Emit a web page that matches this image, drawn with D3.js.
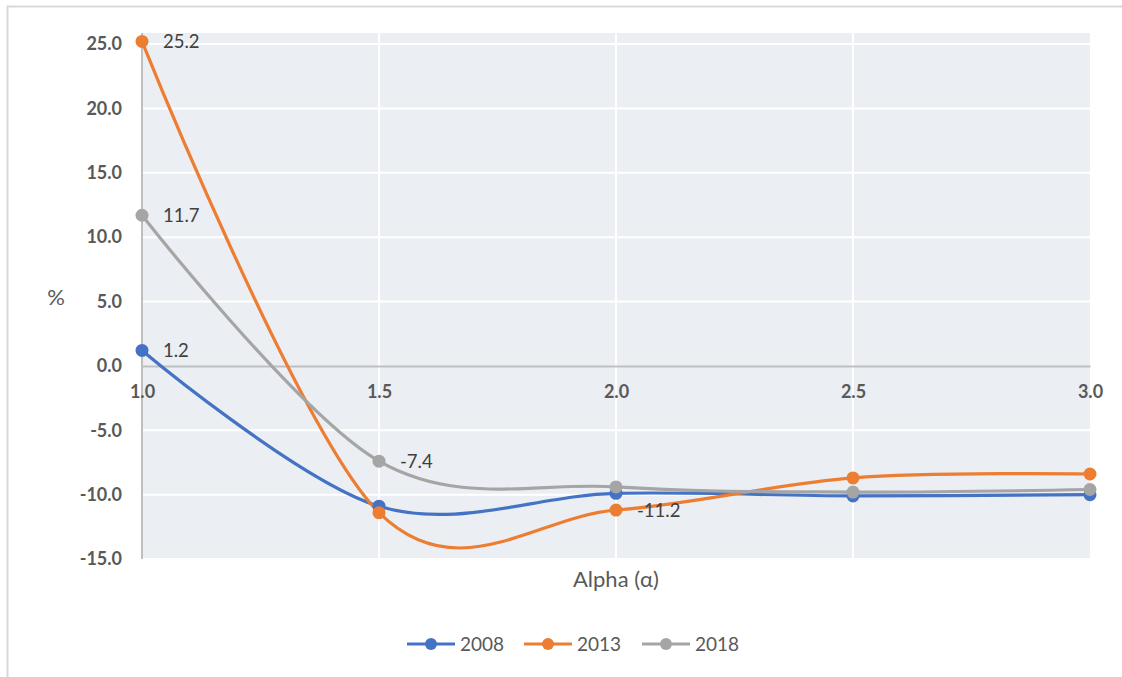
<!DOCTYPE html>
<html>
<head>
<meta charset="utf-8">
<script src="https://cdn.jsdelivr.net/npm/d3@7"></script>
<style>
  body { margin: 0; background: #fff; }
  svg { font-family: Lato, "Open Sans", sans-serif; }
</style>
</head>
<body>
<svg id="chart" width="1122" height="677"></svg>
<script>
// data
const alphas = [1.0, 1.5, 2.0, 2.5, 3.0];
const years = ["2008", "2013", "2018"];
const values2008 = [1.2, -10.9, -9.9, -10.1, -10.0];
const values2013 = [25.2, -11.4, -11.2, -8.7, -8.4];
const values2018 = [11.7, -7.4, -9.4, -9.8, -9.6];
const yTicks = [-15, -10, -5, 0, 5, 10, 15, 20, 25];
const xTicks = [1.0, 1.5, 2.0, 2.5, 3.0];
// which points carry a value label
const labelled2008 = [0];
const labelled2013 = [0, 2];
const labelled2018 = [0, 1];

const colors = ["#4472C4", "#ED7D31", "#A5A5A5"];

// one decimal, plain hyphen for negatives
const fmt = d => d3.format('.1f')(d).replace('\u2212', '-');

const svg = d3.select('#chart');

// outer chart frame
svg.append('rect')
    .attr('x', 7.5).attr('y', 6.5)
    .attr('width', 1200).attr('height', 800)
    .attr('fill', 'none')
    .attr('stroke', '#d9d9d9')
    .attr('stroke-width', 2);

const x = d3.scaleLinear().domain([1, 3]).range([142, 1090]);
const y = d3.scaleLinear().domain([-15, 25]).range([559, 44]);

// plot background
svg.append('rect')
    .attr('x', x(1)).attr('y', y(25) - 11)
    .attr('width', x(3) - x(1)).attr('height', y(-15) - y(25) + 11)
    .attr('fill', '#ebeef2');

// grid
svg.append('g')
    .selectAll('line')
    .data(yTicks.filter(d => d !== 0))
    .join('line')
        .attr('x1', x(1)).attr('x2', x(3))
        .attr('y1', d => y(d)).attr('y2', d => y(d))
        .attr('stroke', '#fff').attr('stroke-width', 2);

svg.append('g')
    .selectAll('line')
    .data(xTicks.slice(1, -1))
    .join('line')
        .attr('x1', d => x(d)).attr('x2', d => x(d))
        .attr('y1', y(25) - 11).attr('y2', y(-15))
        .attr('stroke', '#fff').attr('stroke-width', 2);

// y axis
const axisLeft = d3.axisLeft(y).tickValues(yTicks).tickFormat(fmt).tickSize(0).tickPadding(20);
const gy = svg.append('g')
    .attr('transform', 'translate(' + x(1) + ',0)')
    .call(axisLeft);
gy.select('.domain').attr('stroke', '#bfbfbf').attr('stroke-width', 2)
    .attr('d', 'M0,' + (y(25) - 11) + 'V' + y(-15));
gy.selectAll('text')
    .attr('font-family', 'Lato, sans-serif')
    .attr('font-size', 18)
    .attr('font-weight', 'bold')
    .attr('fill', '#595959');

// x axis at zero
const axisBottom = d3.axisBottom(x).tickValues(xTicks).tickFormat(fmt).tickSize(0).tickPadding(19);
const gx = svg.append('g')
    .attr('transform', 'translate(0,' + y(0) + ')')
    .call(axisBottom);
gx.select('.domain').attr('stroke', '#bfbfbf').attr('stroke-width', 2);
gx.selectAll('text')
    .attr('font-family', 'Lato, sans-serif')
    .attr('font-size', 18)
    .attr('font-weight', 'bold')
    .attr('fill', '#595959');

// axis titles
svg.append('text')
    .attr('x', 616).attr('y', 587)
    .attr('text-anchor', 'middle')
    .attr('font-size', 22)
    .attr('fill', '#595959')
    .text('Alpha (α)');

svg.append('text')
    .attr('x', 56).attr('y', 305)
    .attr('text-anchor', 'middle')
    .attr('font-size', 22)
    .attr('fill', '#595959')
    .text('%');

// series
const series = [
    { name: years[0], values: values2008, labels: labelled2008 },
    { name: years[1], values: values2013, labels: labelled2013 },
    { name: years[2], values: values2018, labels: labelled2018 }
];

const lineBuilder = d3.line()
    .x((d, i) => x(alphas[i]))
    .y(d => y(d))
    .curve(d3.curveCardinal.tension(0));

series.forEach((s, k) => {
    svg.append('path')
        .datum(s.values)
        .attr('fill', 'none')
        .attr('stroke', colors[k])
        .attr('stroke-width', 3.2)
        .attr('d', lineBuilder);
});

series.forEach((s, k) => {
    svg.append('g')
        .selectAll('circle')
        .data(s.values)
        .join('circle')
            .attr('cx', (d, i) => x(alphas[i]))
            .attr('cy', d => y(d))
            .attr('r', 6.5)
            .attr('fill', colors[k]);
});

// data labels
series.forEach((s) => {
    svg.append('g')
        .selectAll('text')
        .data(s.labels)
        .join('text')
            .attr('x', i => x(alphas[i]) + 21)
            .attr('y', i => y(s.values[i]) + 6.5)
            .attr('font-size', 18.5)
            .attr('fill', '#404040')
            .text(i => fmt(s.values[i]));
});

// legend
const legendX = [407, 524, 642];
const legend = svg.append('g');
series.forEach((s, k) => {
    const lg = legend.append('g').attr('transform', 'translate(' + legendX[k] + ',644)');
    lg.append('line')
        .attr('x1', 0).attr('x2', 48)
        .attr('stroke', colors[k]).attr('stroke-width', 3.2);
    lg.append('circle').attr('cx', 24).attr('r', 6).attr('fill', colors[k]);
    lg.append('text')
        .attr('x', 53).attr('y', 7)
        .attr('font-size', 19)
        .attr('fill', '#595959')
        .text(s.name);
});
</script>
</body>
</html>
